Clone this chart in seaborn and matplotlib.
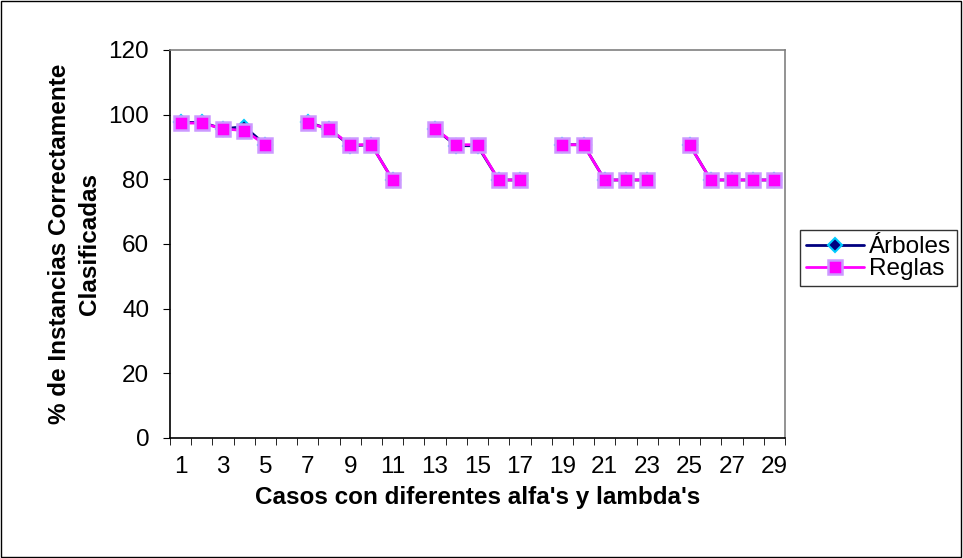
import pandas as pd
import seaborn as sns
import matplotlib.pyplot as plt
from matplotlib.lines import Line2D
from matplotlib.patches import Rectangle

# datos (huecos en los casos 6, 12, 18, 24)
casos = [1, 2, 3, 4, 5, 7, 8, 9, 10, 11, 13, 14, 15, 16, 17,
         19, 20, 21, 22, 23, 25, 26, 27, 28, 29]
grupos = [1] * 5 + [2] * 5 + [3] * 5 + [4] * 5 + [5] * 5
arboles = [97.6, 97.6, 95.6, 96.3, 90.7,
           97.6, 95.6, 90.4, 90.7, 79.8,
           95.6, 90.4, 90.4, 79.8, 79.8,
           90.7, 90.7, 79.8, 79.8, 79.8,
           90.7, 79.8, 79.8, 79.8, 79.8]
reglas = [97.4, 97.4, 95.6, 95.1, 90.7,
          97.4, 95.6, 90.7, 90.7, 79.8,
          95.6, 90.7, 90.7, 79.8, 79.8,
          90.7, 90.7, 79.8, 79.8, 79.8,
          90.7, 79.8, 79.8, 79.8, 79.8]
yticks = [0, 20, 40, 60, 80, 100, 120]
xlabels = list(range(1, 30, 2))

df_arb = pd.DataFrame({'caso': casos, 'grupo': grupos, 'valor': arboles})
df_reg = pd.DataFrame({'caso': casos, 'grupo': grupos, 'valor': reglas})

sns.set_style('white')
plt.rcParams['font.family'] = ['Liberation Sans', 'DejaVu Sans']
plt.rcParams['text.color'] = 'black'
plt.rcParams['axes.labelcolor'] = 'black'
plt.rcParams['xtick.color'] = 'black'
plt.rcParams['ytick.color'] = 'black'

fig = plt.figure(figsize=(9.63, 5.58), dpi=100)
ax = fig.add_axes([170 / 963, 1 - 438 / 558, 615 / 963, 388 / 558])

sns.lineplot(data=df_arb, x='caso', y='valor', units='grupo', estimator=None,
             color='#000080', linewidth=2, marker='D', markersize=7,
             markerfacecolor='#000080', markeredgecolor='#00CCFF',
             markeredgewidth=1.5, ax=ax)
sns.lineplot(data=df_reg, x='caso', y='valor', units='grupo', estimator=None,
             color='#FF00FF', linewidth=2, marker='s', markersize=10,
             markerfacecolor='#FF00FF', markeredgecolor='#CC99FF',
             markeredgewidth=1.8, ax=ax)

ax.set_xlim(0.5, 29.5)
ax.set_ylim(0, 120)
ax.set_yticks(yticks)
ax.set_yticklabels([str(v) for v in yticks], fontsize=17.5)
ax.set_xticks(xlabels)
ax.set_xticklabels([str(v) for v in xlabels], fontsize=17.5)
ax.set_xticks([k + 0.5 for k in range(0, 30)], minor=True)
ax.tick_params(axis='x', which='major', length=0, pad=13)
ax.tick_params(axis='x', which='minor', length=5, direction='out', color='black', bottom=True)
ax.tick_params(axis='y', length=5, direction='out', color='black', left=True, pad=10)

ax.set_xlabel("Casos con diferentes alfa's y lambda's", fontsize=17.5, fontweight='bold', labelpad=6)
ax.set_ylabel('% de Instancias Correctamente\nClasificadas', fontsize=17.5, fontweight='bold',
              labelpad=5, linespacing=1.4)

for side in ['left', 'bottom']:
    ax.spines[side].set_color('black')
    ax.spines[side].set_linewidth(1.2)
for side in ['top', 'right']:
    ax.spines[side].set_color('#808080')
    ax.spines[side].set_linewidth(1.2)

handles = [
    Line2D([], [], color='#000080', linewidth=2, marker='D', markersize=7,
           markerfacecolor='#000080', markeredgecolor='#00CCFF', markeredgewidth=1.5),
    Line2D([], [], color='#FF00FF', linewidth=2, marker='s', markersize=10,
           markerfacecolor='#FF00FF', markeredgecolor='#CC99FF', markeredgewidth=1.8),
]
leg = fig.legend(handles, ['Árboles', 'Reglas'], loc='upper left',
                 bbox_to_anchor=(800 / 963, 1 - 230 / 558), fontsize=17.5,
                 frameon=True, fancybox=False, edgecolor='black',
                 handlelength=2.4, handletextpad=0.2, borderpad=0.25,
                 labelspacing=0.0, borderaxespad=0)
leg.get_frame().set_linewidth(1.0)

fig.add_artist(Rectangle((0.001, 0.002), 0.997, 0.996, transform=fig.transFigure,
                         fill=False, edgecolor='black', linewidth=1.0))

fig.savefig('out.png', dpi=100)
